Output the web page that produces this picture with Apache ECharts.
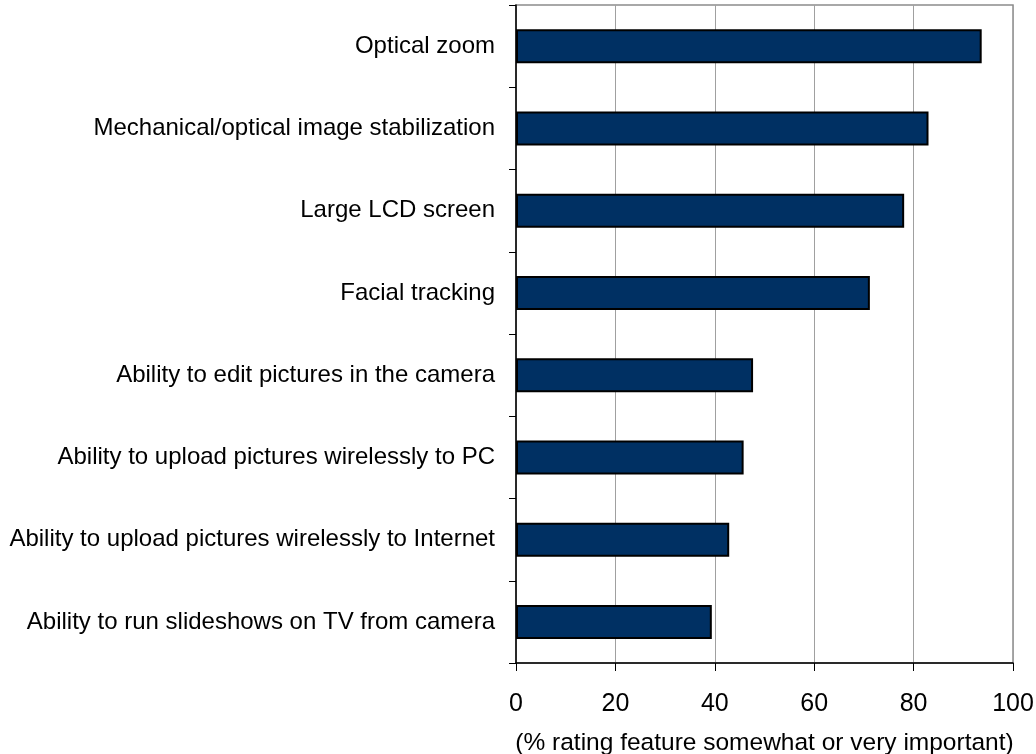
<!DOCTYPE html>
<html>
<head>
<meta charset="utf-8">
<title>Camera feature importance</title>
<script src="https://cdn.jsdelivr.net/npm/echarts@6/dist/echarts.min.js"></script>
<style>
  html, body { margin: 0; padding: 0; background: #ffffff; }
  #chart { width: 1036px; height: 754px; }
</style>
</head>
<body>
<div id="chart"></div>
<script>
// Features, listed top to bottom
const features = [
  'Optical zoom',
  'Mechanical/optical image stabilization',
  'Large LCD screen',
  'Facial tracking',
  'Ability to edit pictures in the camera',
  'Ability to upload pictures wirelessly to PC',
  'Ability to upload pictures wirelessly to Internet',
  'Ability to run slideshows on TV from camera'
];

// Share of respondents rating each feature somewhat or very important (%)
const importance = [93.7, 83.0, 78.1, 71.2, 47.7, 45.8, 42.9, 39.4];

// Value axis scale
const axisMin = 0;
const axisMax = 100;
const axisStep = 20;
const axisTitle = '(% rating feature somewhat or very important)';

const FONT = '"Liberation Sans", Arial, sans-serif';

const chart = echarts.init(document.getElementById('chart'), null, { renderer: 'canvas' });

chart.setOption({
  animation: false,
  backgroundColor: '#ffffff',
  grid: {
    left: 516,
    right: 23,
    top: 5,
    bottom: 91,
    outerBoundsMode: 'none',
    containLabel: false,
    show: true,
    borderColor: '#8c8c8c',
    borderWidth: 1.5,
    backgroundColor: 'transparent'
  },
  xAxis: {
    type: 'value',
    min: axisMin,
    max: axisMax,
    interval: axisStep,
    name: axisTitle,
    nameLocation: 'middle',
    nameGap: 68,
    nameTextStyle: { fontFamily: FONT, fontSize: 24.5, color: '#000000' },
    axisLine: { show: true, onZero: false, lineStyle: { color: '#000000', width: 1.5 } },
    axisTick: { show: true, inside: false, length: 8, lineStyle: { color: '#000000', width: 1 } },
    axisLabel: { fontFamily: FONT, fontSize: 25, color: '#000000', margin: 29 },
    splitLine: { show: true, lineStyle: { color: '#a0a0a0', width: 1 } }
  },
  yAxis: {
    type: 'category',
    data: features,
    inverse: true,
    axisLine: { show: true, lineStyle: { color: '#000000', width: 1.5 } },
    axisTick: { show: true, inside: false, length: 7, alignWithLabel: false, lineStyle: { color: '#000000', width: 1 } },
    axisLabel: { fontFamily: FONT, fontSize: 24, color: '#000000', margin: 21 },
    splitLine: { show: false }
  },
  series: [{
    type: 'bar',
    data: importance,
    barWidth: 34,
    itemStyle: { color: '#003063', borderColor: '#000000', borderWidth: 2 },
    emphasis: { disabled: true }
  }]
});
</script>
</body>
</html>
